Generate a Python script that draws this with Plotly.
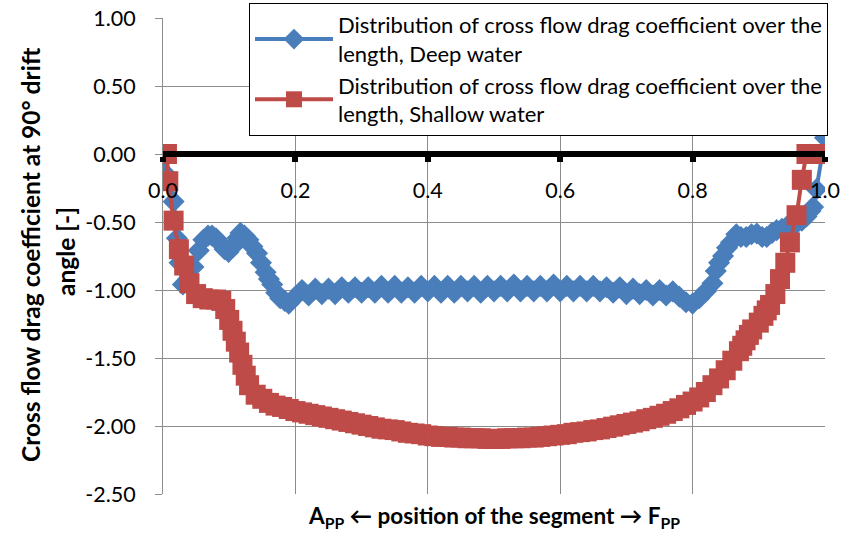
import plotly.graph_objects as go

# ---------------- data ----------------
deep_x = [0.000, 0.005, 0.016, 0.021, 0.025, 0.030, 0.038, 0.046, 0.054, 0.061,
          0.068, 0.074, 0.080, 0.087, 0.093, 0.099, 0.106, 0.112, 0.117, 0.123,
          0.129, 0.135, 0.142, 0.148, 0.155, 0.160, 0.165, 0.171, 0.177, 0.184,
          0.190, 0.20, 0.21, 0.22, 0.23, 0.24, 0.25, 0.26, 0.27, 0.28, 0.29,
          0.30, 0.31, 0.32, 0.33, 0.34, 0.35, 0.36, 0.37, 0.38, 0.39,
          0.40, 0.41, 0.42, 0.43, 0.44, 0.45, 0.46, 0.47, 0.48, 0.49,
          0.50, 0.51, 0.52, 0.53, 0.54, 0.55, 0.56, 0.57, 0.58, 0.59,
          0.60, 0.61, 0.62, 0.63, 0.64, 0.65, 0.66, 0.67, 0.68, 0.69,
          0.70, 0.71, 0.72, 0.73, 0.74, 0.75, 0.76, 0.77, 0.78, 0.79,
          0.80, 0.81, 0.82, 0.830, 0.835, 0.840, 0.846, 0.852, 0.858, 0.866,
          0.873, 0.881, 0.889, 0.897, 0.905, 0.912, 0.920, 0.927, 0.935, 0.942,
          0.950, 0.957, 0.965, 0.972, 0.978, 0.982, 0.987, 1.000]
deep_y = [-0.02, -0.15, -0.35, -0.62, -0.80, -0.96, -0.92, -0.83, -0.71, -0.63,
          -0.60, -0.60, -0.62, -0.66, -0.70, -0.72, -0.68, -0.62, -0.58, -0.60,
          -0.63, -0.68, -0.73, -0.80, -0.87, -0.92, -0.96, -1.02, -1.06, -1.08,
          -1.10, -1.05, -1.00, -1.04, -0.99, -1.03, -0.99, -1.03, -0.98, -1.02, -0.98,
          -1.02, -0.98, -1.02, -0.97, -1.02, -0.97, -1.02, -0.98, -1.02, -0.97,
          -1.01, -0.97, -1.02, -0.97, -1.02, -0.97, -1.01, -0.97, -1.02, -0.97,
          -1.01, -0.97, -1.01, -0.96, -1.01, -0.97, -1.01, -0.97, -1.01, -0.96,
          -1.01, -0.97, -1.01, -0.97, -1.01, -0.97, -1.01, -0.98, -1.02, -0.98,
          -1.03, -0.99, -1.03, -1.00, -1.04, -1.00, -1.04, -1.01, -1.05, -1.09,
          -1.10, -1.06, -1.01, -0.95, -0.86, -0.80, -0.75, -0.69, -0.65, -0.59,
          -0.61, -0.61, -0.59, -0.585, -0.61, -0.61, -0.58, -0.56, -0.55, -0.535,
          -0.52, -0.51, -0.49, -0.46, -0.42, -0.39, -0.26, 0.12]

shallow_x = [0.000, 0.006, 0.008, 0.016, 0.024, 0.032, 0.040, 0.050, 0.060, 0.070,
             0.080, 0.088, 0.094, 0.100, 0.105, 0.110, 0.115, 0.120, 0.125, 0.130,
             0.140, 0.150, 0.160, 0.170, 0.180, 0.190,
             0.20, 0.21, 0.22, 0.23, 0.24, 0.25, 0.26, 0.27, 0.28, 0.29,
             0.30, 0.31, 0.32, 0.33, 0.34, 0.35, 0.36, 0.37, 0.38, 0.39,
             0.40, 0.41, 0.42, 0.43, 0.44, 0.45, 0.46, 0.47, 0.48, 0.49,
             0.50, 0.51, 0.52, 0.53, 0.54, 0.55, 0.56, 0.57, 0.58, 0.59,
             0.60, 0.61, 0.62, 0.63, 0.64, 0.65, 0.66, 0.67, 0.68, 0.69,
             0.70, 0.71, 0.72, 0.73, 0.74, 0.75, 0.76, 0.77, 0.78, 0.79,
             0.80, 0.81, 0.82, 0.83, 0.84, 0.85, 0.86, 0.87, 0.875, 0.88,
             0.885, 0.89, 0.90, 0.907, 0.912, 0.917, 0.925, 0.932, 0.940, 0.947,
             0.957, 0.965, 0.972, 0.980, 0.990, 1.000]
shallow_y = [0.00, 0.00, -0.20, -0.49, -0.70, -0.82, -0.95, -1.03, -1.06, -1.07,
             -1.07, -1.08, -1.14, -1.22, -1.30, -1.38, -1.46, -1.55, -1.63, -1.70,
             -1.77, -1.80, -1.83, -1.85, -1.86, -1.875,
             -1.89, -1.90, -1.91, -1.92, -1.93, -1.94, -1.95, -1.96, -1.97, -1.98,
             -1.99, -2.00, -2.01, -2.02, -2.025, -2.03, -2.04, -2.05, -2.055, -2.06,
             -2.07, -2.075, -2.08, -2.08, -2.085, -2.085, -2.09, -2.09, -2.09, -2.095,
             -2.095, -2.095, -2.09, -2.09, -2.09, -2.085, -2.085, -2.08, -2.075, -2.07,
             -2.065, -2.06, -2.05, -2.045, -2.04, -2.03, -2.025, -2.015, -2.005, -1.995,
             -1.985, -1.975, -1.965, -1.95, -1.94, -1.925, -1.91, -1.89, -1.87, -1.845,
             -1.82, -1.79, -1.75, -1.70, -1.65, -1.59, -1.52, -1.45, -1.41, -1.37,
             -1.33, -1.29, -1.24, -1.19, -1.15, -1.11, -1.03, -0.92, -0.80, -0.65,
             -0.45, -0.19, 0.00, 0.00, 0.00, 0.00]

x_tick_vals = [0.0, 0.2, 0.4, 0.6, 0.8, 1.0]
x_tick_text = ["0.0", "0.2", "0.4", "0.6", "0.8", "1.0"]
y_tick_vals = [1.0, 0.5, 0.0, -0.5, -1.0, -1.5, -2.0, -2.5]
y_tick_text = ["1.00", "0.50", "0.00", "-0.50", "-1.00", "-1.50", "-2.00", "-2.50"]

name_deep = "Distribution of cross flow drag coefficient over the<br>length, Deep water"
name_shallow = "Distribution of cross flow drag coefficient over the<br>length, Shallow water"
y_title_line1 = "Cross flow drag coefficient at 90° drift"
y_title_line2 = "angle [-]"
x_title = "A<sub>PP</sub> ← position of the segment → F<sub>PP</sub>"

BLUE = "#4A7EBB"
RED = "#BE4B48"
GRID = "#8C8C8C"
FONT = "Lato"

fig = go.Figure()
fig.add_trace(go.Scatter(
    x=deep_x, y=deep_y, name=name_deep, mode="lines+markers",
    line=dict(color=BLUE, width=4),
    marker=dict(symbol="diamond", size=17, color=BLUE, line=dict(width=0)),
))
fig.add_trace(go.Scatter(
    x=shallow_x, y=shallow_y, name=name_shallow, mode="lines+markers",
    line=dict(color=RED, width=4),
    marker=dict(symbol="square", size=20, color=RED, line=dict(width=0)),
))

PW, PH = 662.0, 476.0
L, T = 163.0, 18.0


def px_x(px):
    return (px - L) / PW


def px_y(py):
    return (T + PH - py) / PH


fig.update_layout(
    width=861, height=534,
    margin=dict(l=163, r=36, t=18, b=40, autoexpand=False),
    paper_bgcolor="white", plot_bgcolor="white",
    font=dict(family=FONT, size=20, color="black"),
    showlegend=True,
    legend=dict(
        x=px_x(249), y=px_y(3), xanchor="left", yanchor="top",
        bgcolor="white", bordercolor="black", borderwidth=1,
        font=dict(family=FONT, size=22, color="black"),
        itemwidth=78,
    ),
    xaxis=dict(
        range=[0, 1], anchor="free", position=2.5 / 3.5,
        tickvals=x_tick_vals, ticktext=x_tick_text,
        showgrid=True, gridcolor=GRID, gridwidth=1,
        zeroline=False,
        showline=True, linecolor="black", linewidth=6,
        ticks="outside", ticklen=5, tickwidth=6, tickcolor="black",
        ticklabelstandoff=10,
        tickfont=dict(family=FONT, size=21.5, color="black"),
    ),
    yaxis=dict(
        range=[-2.5, 1.0],
        tickvals=y_tick_vals, ticktext=y_tick_text,
        showgrid=True, gridcolor=GRID, gridwidth=1,
        zeroline=False,
        showline=True, linecolor=GRID, linewidth=1,
        ticks="outside", ticklen=7, tickwidth=1, tickcolor=GRID,
        ticklabelstandoff=15,
        tickfont=dict(family=FONT, size=21.5, color="black"),
    ),
    annotations=[
        dict(text="<b>" + y_title_line1 + "</b>", textangle=-90,
             xref="paper", yref="paper", x=px_x(30), y=px_y(255),
             xanchor="center", yanchor="middle", showarrow=False,
             font=dict(family=FONT, size=24.5, color="black")),
        dict(text="<b>" + y_title_line2 + "</b>", textangle=-90,
             xref="paper", yref="paper", x=px_x(65), y=px_y(252),
             xanchor="center", yanchor="middle", showarrow=False,
             font=dict(family=FONT, size=24.5, color="black")),
        dict(text="<b>" + x_title + "</b>",
             xref="paper", yref="paper", x=px_x(494), y=px_y(517),
             xanchor="center", yanchor="middle", showarrow=False,
             font=dict(family=FONT, size=22.5, color="black")),
    ],
)

fig.write_html("out.html")
